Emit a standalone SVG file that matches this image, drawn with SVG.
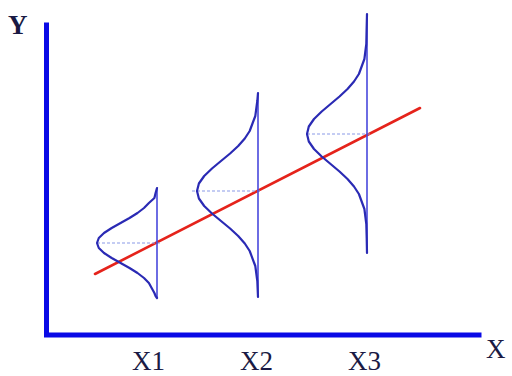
<svg xmlns="http://www.w3.org/2000/svg" width="512" height="376" viewBox="0 0 512 376">
<style>
.lbl{font-family:"Liberation Serif","Times New Roman",serif;font-size:27px;fill:#1a1a44}
.axis{stroke:#0a0ae6;stroke-width:5;fill:none;stroke-linecap:square}
.curve{stroke:#2a2ab4;stroke-width:2.2;fill:none;stroke-linejoin:round;stroke-linecap:round}
.vline{stroke:#4848dc;stroke-width:1.6}
.dash{stroke:#8a9ae8;stroke-width:1.2;stroke-dasharray:3 2}
.reg{stroke:#e5231b;stroke-width:2.6;stroke-linecap:round}
</style>
<rect width="512" height="376" fill="#ffffff"/>
<g id="axes">
<polyline class="axis" points="46.5,25 46.5,335 479,335"/>
<text class="lbl" x="8" y="34" font-weight="bold">Y</text>
<text class="lbl" x="486" y="358">X</text>
</g>
<g id="regression">
<line class="reg" x1="95" y1="274" x2="420" y2="108"/>
</g>
<g id="dist1">
<line class="dash" x1="97" y1="243" x2="162" y2="243"/>
<line class="vline" x1="157" y1="188" x2="157" y2="298"/>
<polyline class="curve" points="157,188 155.6,193 154.4,198 148.9,203 144,208 137.5,213 129.5,218 120.6,223 111.7,228 104,233 98.8,238 97,243 98.8,248 104,253 111.7,258 120.6,263 129.5,268 137.5,273 144,278 148.9,283 154.4,293 155.6,296 157,298"/>
<text class="lbl" x="132" y="370">X1</text>
</g>
<g id="dist2">
<line class="dash" x1="192" y1="191" x2="262" y2="191"/>
<line class="vline" x1="258" y1="93" x2="258" y2="297"/>
<polyline class="curve" points="258,93 257.3,101 255.3,116 249.7,131 244.8,138.5 238.2,146 230.1,153.5 221,161 212,168.5 204.2,176 198.9,183.5 197,191 198.9,198.5 204.2,206 212,213.5 221,221 230.1,228.5 238.2,236 244.8,243.5 249.7,251 255.3,266 257.3,281 258,297"/>
<text class="lbl" x="240" y="370">X2</text>
</g>
<g id="dist3">
<line class="dash" x1="307" y1="134" x2="372" y2="134"/>
<line class="vline" x1="367" y1="14" x2="367" y2="253"/>
<polyline class="curve" points="367,14 366.6,30 366.3,44 364.4,59 358.9,74 354,81.5 347.5,89 339.5,96.5 330.6,104 321.7,111.5 314,119 308.8,126.5 307,134 308.8,141.5 314,149 321.7,156.5 330.6,164 339.5,171.5 347.5,179 354,186.5 358.9,194 364.4,209 366.3,224 366.7,238 367,253"/>
<text class="lbl" x="348" y="370">X3</text>
</g>
</svg>
